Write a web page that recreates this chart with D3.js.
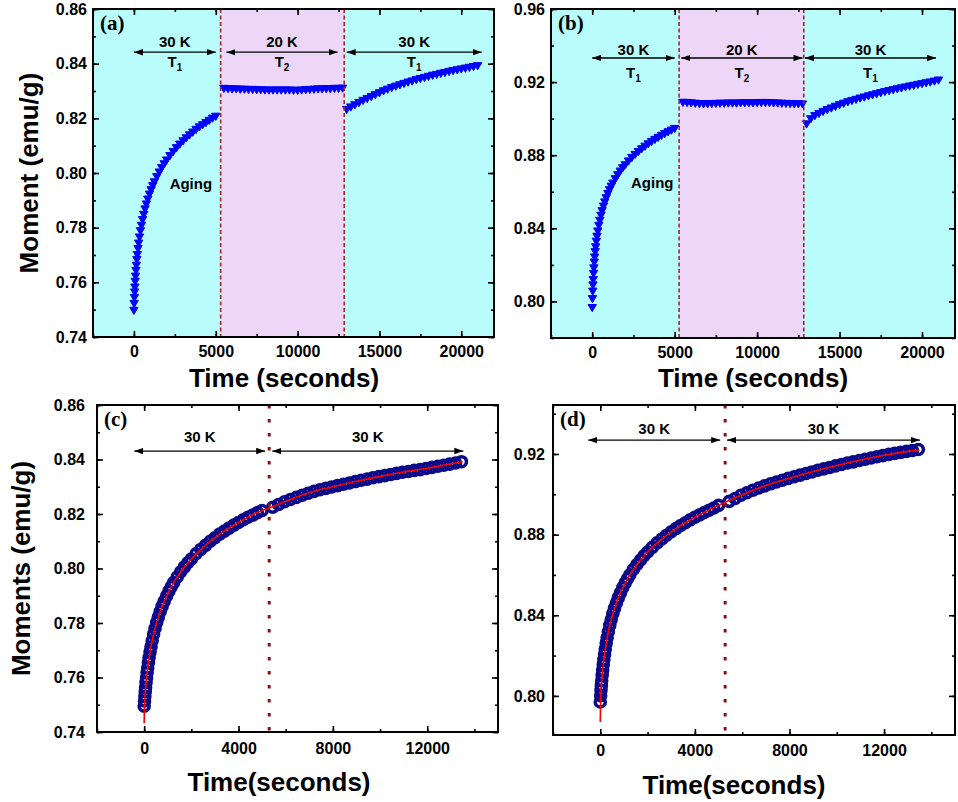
<!DOCTYPE html>
<html>
<head>
<meta charset="utf-8">
<script src="https://cdn.jsdelivr.net/npm/d3@7"></script>
<style>
  body { margin: 0; background: #fff; }
  svg { display: block; }
  text { font-family: "Liberation Sans", Arial, sans-serif; font-weight: bold; fill: #000; }
</style>
</head>
<body>
<svg id="chart" width="958" height="802"></svg>
<script>
// ---- data ----
var agingTime = [0,15,30,45,60,80,100,125,150,180,210,250,290,340,400,460,530,600,680,760,850,950,1050,1150,1250,1400,1550,1700,1850,2000,2200,2400,2600,2800,3000,3200,3400,3600,3800,4000,4200,4400,4600,4800,5000];
var t2Time = [5500,5750,6000,6250,6500,6750,7000,7250,7500,7750,8000,8250,8500,8750,9000,9250,9500,9750,10000,10250,10500,10750,11000,11250,11500,11750,12000,12250,12500,12750];
var recoveryTime = [13000,13250,13500,13750,14000,14250,14500,14750,15000,15250,15500,15750,16000,16250,16500,16750,17000,17250,17500,17750,18000,18250,18500,18750,19000,19250,19500,19750,20000,20250,20500,20750,21000];
var joinedTime = [5450,5700,5950,6200,6450,6700,6950,7200,7450,7700,7950,8200,8450,8700,8950,9200,9450,9700,9950,10200,10450,10700,10950,11200,11450,11700,11950,12200,12450,12700,12950,13200,13450];

// (a)
var aAging = [0.7500,0.7525,0.7547,0.7567,0.7585,0.7606,0.7625,0.7646,0.7665,0.7686,0.7704,0.7726,0.7746,0.7768,0.7791,0.7811,0.7832,0.7851,0.7871,0.7889,0.7907,0.7925,0.7941,0.7956,0.7970,0.7989,0.8006,0.8022,0.8036,0.8050,0.8066,0.8081,0.8095,0.8108,0.8120,0.8131,0.8142,0.8152,0.8162,0.8171,0.8179,0.8187,0.8195,0.8203,0.8210];
var aT2 = [0.8312,0.8311,0.8310,0.8310,0.8309,0.8309,0.8308,0.8308,0.8307,0.8307,0.8306,0.8306,0.8306,0.8306,0.8306,0.8306,0.8306,0.8305,0.8305,0.8306,0.8307,0.8308,0.8309,0.8310,0.8310,0.8311,0.8311,0.8312,0.8312,0.8313];
var aRecovery = [0.8235,0.8244,0.8252,0.8260,0.8268,0.8275,0.8282,0.8289,0.8296,0.8303,0.8309,0.8315,0.8320,0.8325,0.8330,0.8335,0.8339,0.8344,0.8348,0.8352,0.8356,0.8360,0.8363,0.8367,0.8370,0.8374,0.8377,0.8380,0.8383,0.8386,0.8389,0.8392,0.8395];

// (b)
var bAging = [0.7970,0.8019,0.8060,0.8094,0.8123,0.8157,0.8187,0.8219,0.8247,0.8276,0.8302,0.8333,0.8360,0.8389,0.8420,0.8447,0.8475,0.8500,0.8525,0.8548,0.8571,0.8594,0.8615,0.8634,0.8651,0.8675,0.8697,0.8717,0.8735,0.8751,0.8772,0.8791,0.8808,0.8824,0.8839,0.8853,0.8866,0.8879,0.8890,0.8901,0.8912,0.8922,0.8932,0.8941,0.8950];
var bT2 = [0.9093,0.9092,0.9090,0.9088,0.9086,0.9085,0.9085,0.9086,0.9087,0.9088,0.9088,0.9089,0.9089,0.9089,0.9090,0.9090,0.9090,0.9090,0.9091,0.9092,0.9092,0.9091,0.9090,0.9089,0.9088,0.9087,0.9086,0.9085,0.9085,0.9084];
var bRecovery = [0.8975,0.9003,0.9020,0.9032,0.9043,0.9053,0.9062,0.9071,0.9080,0.9088,0.9096,0.9103,0.9109,0.9116,0.9122,0.9128,0.9134,0.9140,0.9146,0.9152,0.9157,0.9162,0.9167,0.9172,0.9177,0.9182,0.9186,0.9191,0.9195,0.9200,0.9204,0.9209,0.9215];

// (c)
var cAging = [0.7495,0.7514,0.7532,0.7548,0.7563,0.7582,0.7599,0.7618,0.7636,0.7655,0.7673,0.7694,0.7713,0.7735,0.7759,0.7780,0.7802,0.7822,0.7842,0.7861,0.7880,0.7899,0.7917,0.7933,0.7948,0.7969,0.7988,0.8005,0.8021,0.8035,0.8054,0.8070,0.8085,0.8100,0.8113,0.8126,0.8137,0.8148,0.8159,0.8169,0.8179,0.8188,0.8196,0.8205,0.8213];
var cJoined = [0.8225,0.8235,0.8245,0.8253,0.8261,0.8269,0.8276,0.8283,0.8289,0.8294,0.8299,0.8304,0.8309,0.8314,0.8319,0.8324,0.8328,0.8333,0.8337,0.8341,0.8345,0.8349,0.8353,0.8356,0.8360,0.8363,0.8367,0.8371,0.8375,0.8379,0.8383,0.8387,0.8392];

// (d)
var dAging = [0.7970,0.8001,0.8028,0.8052,0.8075,0.8102,0.8127,0.8155,0.8180,0.8207,0.8232,0.8262,0.8288,0.8318,0.8350,0.8378,0.8408,0.8434,0.8461,0.8486,0.8511,0.8537,0.8560,0.8581,0.8601,0.8628,0.8652,0.8674,0.8695,0.8714,0.8737,0.8759,0.8778,0.8797,0.8814,0.8830,0.8845,0.8859,0.8873,0.8886,0.8898,0.8910,0.8921,0.8932,0.8945];
var dJoined = [0.8965,0.8979,0.8995,0.9008,0.9020,0.9031,0.9042,0.9052,0.9061,0.9070,0.9079,0.9087,0.9095,0.9103,0.9111,0.9119,0.9126,0.9133,0.9141,0.9148,0.9155,0.9161,0.9168,0.9174,0.9180,0.9186,0.9192,0.9198,0.9203,0.9208,0.9213,0.9217,0.9222];

// fitted curves (red lines)
var fitTime = [0,5,15,30,60,100,150,250,400,600,850,1150,1550,2000,2600,3200,4000,5000,5300,6000,7000,8000,9000,10000,11000,12000,13000,13500];
var cFit = [0.7432,0.7465,0.7495,0.7522,0.7558,0.7595,0.7634,0.7694,0.7759,0.7822,0.7880,0.7933,0.7988,0.8035,0.8085,0.8126,0.8169,0.8213,0.8222,0.8247,0.8278,0.8300,0.8320,0.8338,0.8354,0.8368,0.8384,0.8392];
var dFit = [0.7870,0.7915,0.7975,0.8025,0.8075,0.8127,0.8180,0.8262,0.8350,0.8434,0.8511,0.8581,0.8652,0.8714,0.8778,0.8830,0.8886,0.8945,0.8962,0.8998,0.9044,0.9080,0.9113,0.9143,0.9170,0.9194,0.9213,0.9220];

// ticks
var abTimeTicks = [0,5000,10000,15000,20000];
var cdTimeTicks = [0,4000,8000,12000];
var acMomentTicks = [0.74,0.76,0.78,0.80,0.82,0.84,0.86];
var bdMomentTicks = [0.80,0.84,0.88,0.92,0.96];

// ---- layout ----
var svg = d3.select("#chart");
var defs = svg.append("defs");
defs.append("marker")
    .attr("id", "head")
    .attr("markerUnits", "userSpaceOnUse")
    .attr("markerWidth", 10)
    .attr("markerHeight", 8)
    .attr("refX", 9)
    .attr("refY", 4)
    .attr("orient", "auto-start-reverse")
  .append("path")
    .attr("d", "M0,0.8 L9,4 L0,7.2 Z")
    .attr("fill", "#000");

function zip(ts, ms) {
  return ts.map(function(t, i) { return {t: t, m: ms[i]}; });
}

var panels = [
  {id: "a", left: 93, right: 494, top: 9, bottom: 337,
    xDomain: [-2500, 22000], yDomain: [0.74, 0.86],
    xTicks: abTimeTicks, xMinor: 2500, yTicks: acMomentTicks, yMinor: 0.01,
    xPad: 8.6, yPad: 6, shaded: [5300, 12850],
    points: zip(agingTime, aAging).concat(zip(t2Time, aT2), zip(recoveryTime, aRecovery)),
    arrowM: 0.8442, labelUp: 5, labelDown: 15,
    arrows: [{from: 0, to: 5000, label: "30 K", sub: "1"},
             {from: 5650, to: 12450, label: "20 K", sub: "2"},
             {from: 13000, to: 21250, label: "30 K", sub: "1"}],
    aging: {t: 3480, m: 0.7941},
    yTitle: "Moment (emu/g)", yTitleX: 38, xTitle: "Time (seconds)", xTitleX: 284, xTitleY: 387},
  {id: "b", left: 551, right: 955, top: 9, bottom: 338,
    xDomain: [-2500, 22000], yDomain: [0.78, 0.96],
    xTicks: abTimeTicks, xMinor: 2500, yTicks: bdMomentTicks, yMinor: 0.02,
    xPad: 8.6, yPad: 6, shaded: [5270, 12830],
    points: zip(agingTime, bAging).concat(zip(t2Time, bT2), zip(recoveryTime, bRecovery)),
    arrowM: 0.9332, labelUp: 3, labelDown: 20,
    arrows: [{from: 0, to: 5000, label: "30 K", sub: "1"},
             {from: 5400, to: 12750, label: "20 K", sub: "2"},
             {from: 12900, to: 20850, label: "30 K", sub: "1"}],
    aging: {t: 3640, m: 0.8622},
    xTitle: "Time (seconds)", xTitleX: 753, xTitleY: 387},
  {id: "c", left: 97, right: 498, top: 405, bottom: 732,
    xDomain: [-2000, 15000], yDomain: [0.74, 0.86],
    xTicks: cdTimeTicks, xMinor: 2000, yTicks: acMomentTicks, yMinor: 0.01,
    xPad: 10.6, yPad: 12, divider: 5300,
    points: zip(agingTime, cAging).concat(zip(joinedTime, cJoined)),
    fit: zip(fitTime, cFit),
    arrowM: 0.8431, labelUp: 9,
    arrows: [{from: -420, to: 5130, label: "30 K"},
             {from: 5430, to: 13530, label: "30 K"}],
    yTitle: "Moments (emu/g)", yTitleX: 30, xTitle: "Time(seconds)", xTitleX: 279, xTitleY: 791},
  {id: "d", left: 553, right: 955, top: 405, bottom: 735,
    xDomain: [-2000, 15000], yDomain: [0.7806, 0.9443],
    xTicks: cdTimeTicks, xMinor: 2000, yTicks: bdMomentTicks.slice(0, 4), yMinor: 0.02,
    xPad: 9.6, yPad: 8, divider: 5280,
    points: zip(agingTime, dAging).concat(zip(joinedTime, dJoined)),
    fit: zip(fitTime, dFit),
    arrowM: 0.9269, labelUp: 6,
    arrows: [{from: -510, to: 5070, label: "30 K"},
             {from: 5360, to: 13520, label: "30 K"}],
    xTitle: "Time(seconds)", xTitleX: 734, xTitleY: 794}
];

function drawPanel(p) {
  var x = d3.scaleLinear().domain(p.xDomain).range([p.left, p.right]);
  var y = d3.scaleLinear().domain(p.yDomain).range([p.bottom, p.top]);
  var w = p.right - p.left, h = p.bottom - p.top;
  var g = svg.append("g").attr("class", "panel-" + p.id);

  defs.append("clipPath").attr("id", "clip-" + p.id)
    .append("rect").attr("x", p.left).attr("y", p.top).attr("width", w).attr("height", h);
  var plot = g.append("g").attr("clip-path", "url(#clip-" + p.id + ")");

  if (p.shaded) {
    plot.append("rect").attr("x", p.left).attr("y", p.top).attr("width", w).attr("height", h)
      .attr("fill", "#b9fcfc");
    plot.append("rect").attr("x", x(p.shaded[0])).attr("y", p.top)
      .attr("width", x(p.shaded[1]) - x(p.shaded[0])).attr("height", h)
      .attr("fill", "#eed6f8");
  }

  if (p.fit) {
    plot.selectAll("circle.pt").data(p.points).enter().append("circle")
      .attr("class", "pt")
      .attr("cx", function(d) { return x(d.t); })
      .attr("cy", function(d) { return y(d.m); })
      .attr("r", 5)
      .attr("fill", "none")
      .attr("stroke", "#0b0b8a")
      .attr("stroke-width", 3.6);
    plot.append("path").datum(p.fit)
      .attr("d", d3.line().x(function(d) { return x(d.t); }).y(function(d) { return y(d.m); }).curve(d3.curveMonotoneX))
      .attr("fill", "none").attr("stroke", "#ff0000").attr("stroke-width", 1.6);
    plot.append("line")
      .attr("x1", x(p.divider)).attr("x2", x(p.divider)).attr("y1", p.top).attr("y2", p.bottom)
      .attr("stroke", "#8b1010").attr("stroke-width", 3).attr("stroke-dasharray", "3.5,10.5");
  } else {
    var tri = d3.symbol().type(d3.symbolTriangle).size(30);
    plot.selectAll("path.pt").data(p.points).enter().append("path")
      .attr("class", "pt")
      .attr("d", tri)
      .attr("transform", function(d) { return "translate(" + x(d.t) + "," + y(d.m) + ") rotate(180)"; })
      .attr("fill", "#0000ff")
      .attr("stroke", "#0000ff")
      .attr("stroke-width", 1);
    p.shaded.forEach(function(t) {
      plot.append("line")
        .attr("x1", x(t)).attr("x2", x(t)).attr("y1", p.top).attr("y2", p.bottom)
        .attr("stroke", "#a8242a").attr("stroke-width", 1.6).attr("stroke-dasharray", "4,2.5");
    });
  }

  // arrows with temperature labels
  var ay = y(p.arrowM);
  p.arrows.forEach(function(a) {
    g.append("line")
      .attr("x1", x(a.from)).attr("x2", x(a.to)).attr("y1", ay).attr("y2", ay)
      .attr("stroke", "#000").attr("stroke-width", 1.3)
      .attr("marker-start", "url(#head)").attr("marker-end", "url(#head)");
    var cx = (x(a.from) + x(a.to)) / 2;
    g.append("text").attr("x", cx).attr("y", ay - p.labelUp)
      .attr("text-anchor", "middle").style("font-size", "15px").text(a.label);
    if (a.sub) {
      var tt = g.append("text").attr("x", cx).attr("y", ay + p.labelDown)
        .attr("text-anchor", "middle").style("font-size", "15px");
      tt.append("tspan").text("T");
      tt.append("tspan").attr("dy", 4).style("font-size", "10px").text(a.sub);
    }
  });
  if (p.aging) {
    g.append("text").attr("x", x(p.aging.t)).attr("y", y(p.aging.m))
      .attr("text-anchor", "middle").style("font-size", "15px").text("Aging");
  }

  // axes: inward ticks on all four sides
  var fmtY = d3.format(".2f");
  var minorX = d3.range(Math.ceil(p.xDomain[0] / p.xMinor) * p.xMinor, p.xDomain[1] + 1, p.xMinor);
  var minorY = d3.range(p.yDomain[0], p.yDomain[1] + 1e-9, p.yMinor)
    .map(function(v) { return Math.round(v / p.yMinor) * p.yMinor; })
    .filter(function(v) { return v >= p.yDomain[0] - 1e-9 && v <= p.yDomain[1] + 1e-9; });

  function addAxis(axis, tx, ty, cls) {
    var ag = g.append("g").attr("class", cls).attr("transform", "translate(" + tx + "," + ty + ")").call(axis);
    ag.select(".domain").remove();
    ag.selectAll(".tick line").attr("stroke", "#000").attr("stroke-width", 1.6);
    ag.selectAll("text").style("font-size", "16px").style("font-family", "'Liberation Sans', Arial, sans-serif")
      .style("font-weight", "bold").attr("fill", "#000");
    return ag;
  }
  addAxis(d3.axisBottom(x).tickValues(minorX).tickSize(-3).tickFormat(""), 0, p.bottom, "minor");
  addAxis(d3.axisTop(x).tickValues(minorX).tickSize(-3).tickFormat(""), 0, p.top, "minor");
  addAxis(d3.axisLeft(y).tickValues(minorY).tickSize(-3).tickFormat(""), p.left, 0, "minor");
  addAxis(d3.axisRight(y).tickValues(minorY).tickSize(-3).tickFormat(""), p.right, 0, "minor");
  addAxis(d3.axisBottom(x).tickValues(p.xTicks).tickSize(-6).tickPadding(p.xPad).tickFormat(d3.format("d")), 0, p.bottom, "x");
  addAxis(d3.axisTop(x).tickValues(p.xTicks).tickSize(-6).tickFormat(""), 0, p.top, "x2");
  addAxis(d3.axisLeft(y).tickValues(p.yTicks).tickSize(-6).tickPadding(p.yPad).tickFormat(fmtY), p.left, 0, "y");
  addAxis(d3.axisRight(y).tickValues(p.yTicks).tickSize(-6).tickFormat(""), p.right, 0, "y2");

  g.append("rect").attr("x", p.left).attr("y", p.top).attr("width", w).attr("height", h)
    .attr("fill", "none").attr("stroke", "#000").attr("stroke-width", 2);

  // panel letter
  g.append("text").attr("x", p.left + 7).attr("y", p.top + 21)
    .style("font-family", "'Liberation Serif', 'Times New Roman', serif")
    .style("font-size", "21px").attr("fill", "#1a1a2e").text("(" + p.id + ")");

  // titles
  g.append("text").attr("x", p.xTitleX).attr("y", p.xTitleY)
    .attr("text-anchor", "middle").style("font-size", "26px").text(p.xTitle);
  if (p.yTitle) {
    g.append("text").attr("transform", "translate(" + p.yTitleX + "," + ((p.top + p.bottom) / 2) + ") rotate(-90)")
      .attr("text-anchor", "middle").style("font-size", "26px").text(p.yTitle);
  }
}

panels.forEach(drawPanel);
</script>
</body>
</html>
